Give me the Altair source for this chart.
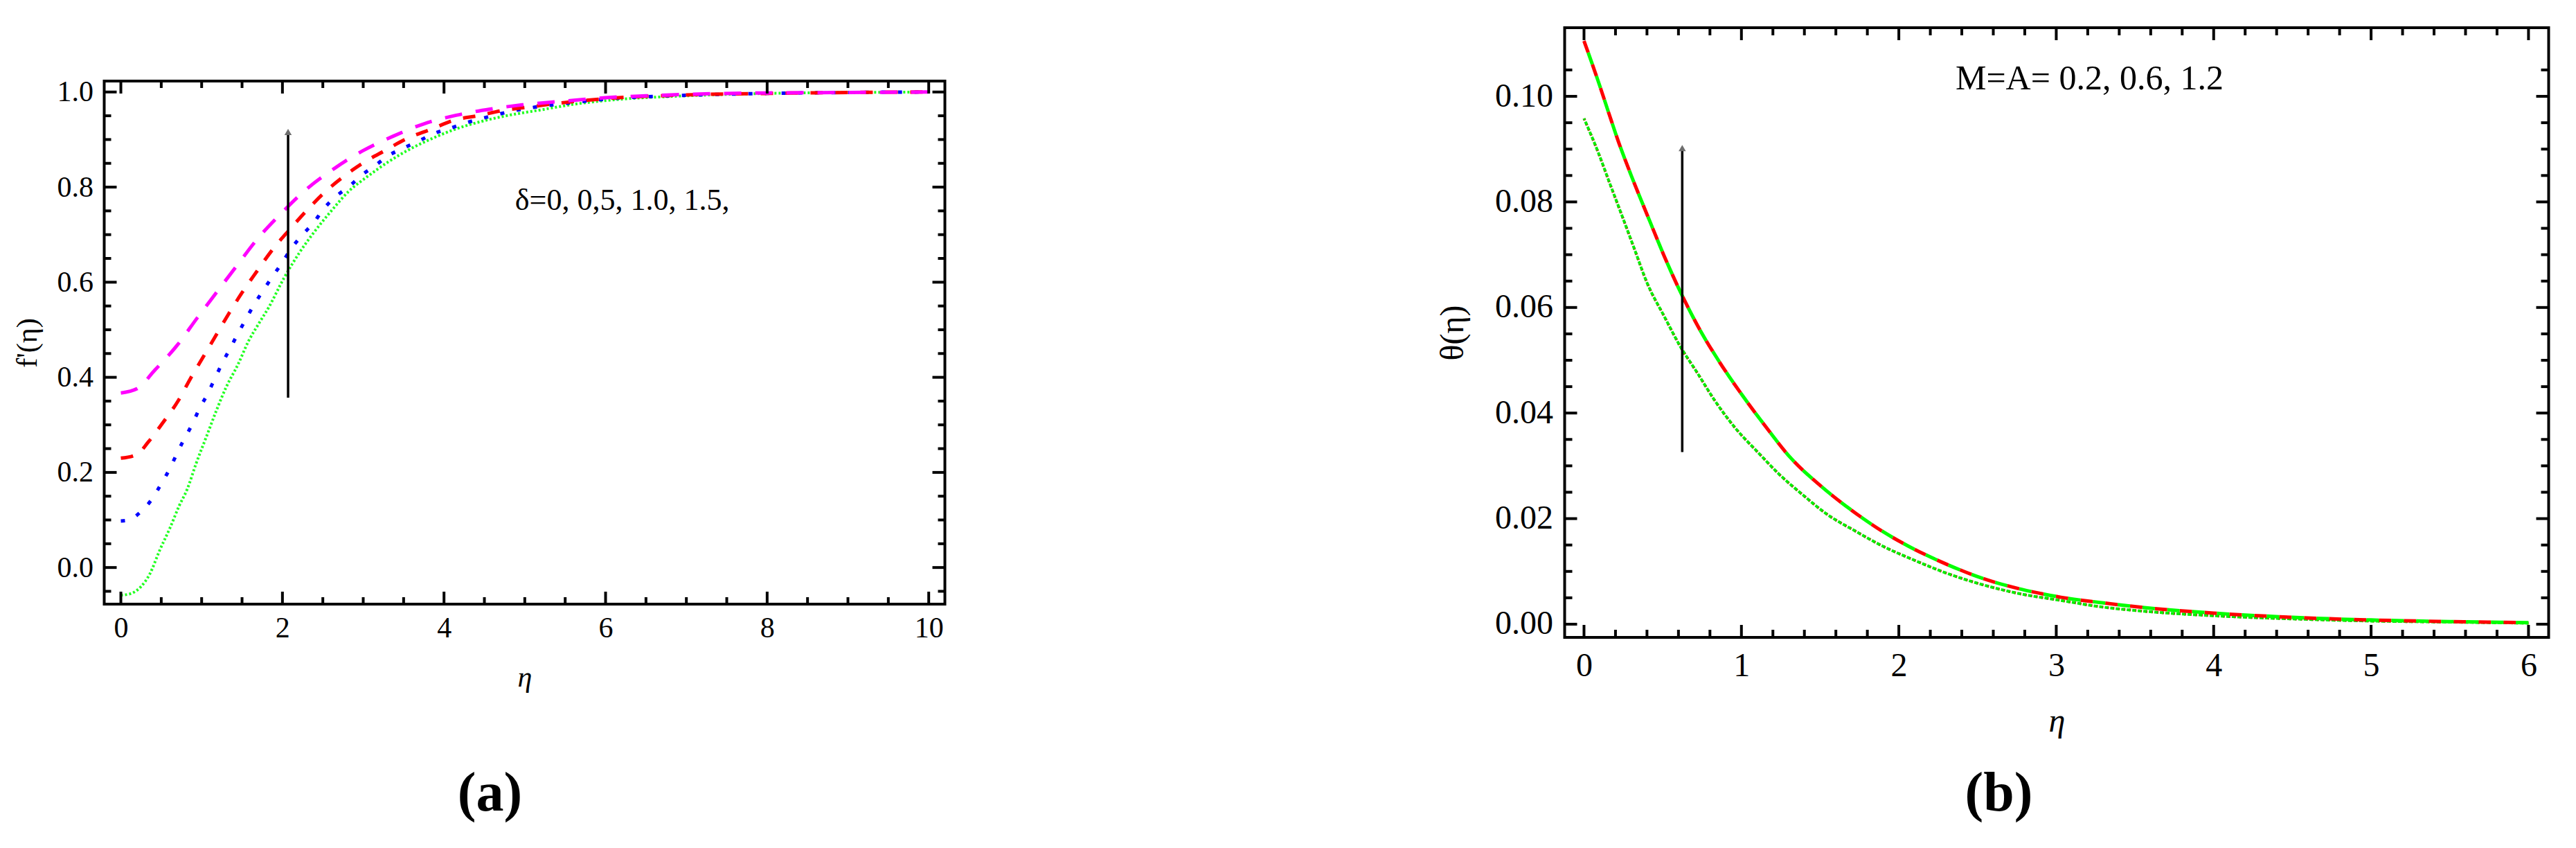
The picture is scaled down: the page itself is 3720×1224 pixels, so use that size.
import altair as alt
import pandas as pd

FONT = "Liberation Serif"

# ---------------- Panel (a): f'(eta) for delta = 0, 0.5, 1.0, 1.5 ----------------
a_green_eta = [0, 0.1, 0.25, 0.36, 0.48, 0.61, 0.72, 0.82, 0.93, 1.07, 1.18, 1.30, 1.45, 1.58, 1.70, 1.83, 2.02,
               2.21, 2.40, 2.61, 2.82, 3.05, 3.31, 3.58, 3.85, 4.11, 4.46, 4.80, 5.22, 5.6, 6, 7, 8, 9, 10]
a_green_val = [-0.058, -0.056, -0.040, -0.013, 0.036, 0.084, 0.129, 0.164, 0.218, 0.280, 0.329, 0.378, 0.427,
               0.476, 0.511, 0.547, 0.609, 0.662, 0.707, 0.751, 0.791, 0.822, 0.853, 0.880, 0.902, 0.920, 0.938,
               0.951, 0.963, 0.974, 0.982, 0.992, 0.997, 0.999, 1.0]

a_blue_eta = [0, 0.1, 0.25, 0.39, 0.50, 0.60, 0.69, 0.78, 0.88, 0.97, 1.07, 1.16, 1.25, 1.35, 1.45, 1.55, 1.65,
              1.76, 1.89, 2.0, 2.11, 2.25, 2.39, 2.51, 2.66, 2.83, 2.98, 3.14, 3.30, 3.50, 3.70, 3.88, 4.08, 4.27,
              4.46, 4.67, 4.88, 5.12, 5.5, 6, 7, 8, 9, 10]
a_blue_val = [0.098, 0.100, 0.118, 0.145, 0.176, 0.206, 0.238, 0.269, 0.300, 0.333, 0.364, 0.396, 0.428, 0.460,
              0.492, 0.523, 0.553, 0.582, 0.615, 0.642, 0.671, 0.700, 0.726, 0.754, 0.780, 0.802, 0.825, 0.844,
              0.865, 0.882, 0.898, 0.913, 0.924, 0.935, 0.944, 0.953, 0.961, 0.968, 0.976, 0.985, 0.993, 0.997,
              0.999, 1.0]

a_red_eta = [0, 0.2, 0.34, 0.53, 0.70, 0.86, 1.02, 1.18, 1.34, 1.50, 1.68, 1.87, 2.08, 2.28, 2.51, 2.74, 2.98,
             3.27, 3.54, 3.83, 4.15, 4.42, 4.72, 5.03, 5.5, 6, 7, 8, 9, 10]
a_red_val = [0.230, 0.238, 0.264, 0.307, 0.348, 0.397, 0.443, 0.489, 0.535, 0.578, 0.622, 0.667, 0.709, 0.747,
             0.787, 0.820, 0.849, 0.877, 0.902, 0.921, 0.942, 0.950, 0.961, 0.968, 0.978, 0.986, 0.994, 0.997,
             0.999, 1.0]

a_mag_eta = [0, 0.2, 0.42, 0.70, 0.95, 1.2, 1.45, 1.70, 1.98, 2.30, 2.65, 2.99, 3.37, 3.75, 4.15, 4.57, 4.97,
             5.5, 6, 6.5, 7, 8, 9, 10]
a_mag_val = [0.367, 0.376, 0.415, 0.468, 0.526, 0.582, 0.638, 0.693, 0.744, 0.796, 0.840, 0.876, 0.907, 0.933,
             0.951, 0.964, 0.973, 0.981, 0.988, 0.992, 0.995, 0.998, 0.999, 1.0]

a_x_major = [0, 2, 4, 6, 8, 10]
a_x_minor = [0.5, 1, 1.5, 2.5, 3, 3.5, 4.5, 5, 5.5, 6.5, 7, 7.5, 8.5, 9, 9.5]
a_y_major = [0.0, 0.2, 0.4, 0.6, 0.8, 1.0]
a_y_minor = [-0.05, 0.05, 0.1, 0.15, 0.25, 0.3, 0.35, 0.45, 0.5, 0.55, 0.65, 0.7, 0.75, 0.85, 0.9, 0.95]
a_arrow = {"x": [2.07], "y": [0.357], "y2": [0.916]}
a_note = {"x": [4.88], "y": [0.771], "t": ["\u03b4=0, 0,5, 1.0, 1.5,"]}

# ---------------- Panel (b): theta(eta) for M = A = 0.2, 0.6, 1.2 ----------------
b_up_eta = [0, 0.10, 0.16, 0.22, 0.30, 0.42, 0.51, 0.61, 0.73, 0.86, 1.0, 1.15, 1.31, 1.50, 1.69, 1.89, 2.06,
            2.30, 2.53, 2.78, 3.03, 3.28, 3.54, 4.0, 4.5, 5.0, 5.5, 6.0]
b_up_val = [0.1105, 0.1020, 0.0966, 0.0913, 0.0850, 0.0762, 0.0697, 0.0631, 0.0561, 0.0497, 0.0436, 0.0376,
            0.0316, 0.0263, 0.0218, 0.0177, 0.0148, 0.0114, 0.0087, 0.0066, 0.0051, 0.0041, 0.0032, 0.0021,
            0.0013, 0.0008, 0.0005, 0.0003]
b_lo_eta = [0, 0.09, 0.16, 0.24, 0.32, 0.40, 0.51, 0.61, 0.72, 0.83, 0.96, 1.11, 1.24, 1.39, 1.54, 1.72, 1.89,
            2.10, 2.30, 2.53, 2.78, 3.03, 3.28, 3.54, 4.0, 4.5, 5.0, 5.5, 6.0]
b_lo_val = [0.0958, 0.0894, 0.0838, 0.0775, 0.0711, 0.0647, 0.0583, 0.0527, 0.0476, 0.0424, 0.0372, 0.0324,
            0.0284, 0.0245, 0.0209, 0.0177, 0.0149, 0.0121, 0.0097, 0.0075, 0.0057, 0.0045, 0.0033, 0.0025,
            0.0016, 0.0010, 0.0006, 0.0004, 0.0002]

b_x_major = [0, 1, 2, 3, 4, 5, 6]
b_x_minor = [0.2, 0.4, 0.6, 0.8, 1.2, 1.4, 1.6, 1.8, 2.2, 2.4, 2.6, 2.8, 3.2, 3.4, 3.6, 3.8, 4.2, 4.4, 4.6, 4.8,
             5.2, 5.4, 5.6, 5.8]
b_y_major = [0.0, 0.02, 0.04, 0.06, 0.08, 0.10]
b_y_minor = [0.005, 0.01, 0.015, 0.025, 0.03, 0.035, 0.045, 0.05, 0.055, 0.065, 0.07, 0.075, 0.085, 0.09,
             0.095, 0.105]
b_arrow = {"x": [0.624], "y": [0.0326], "y2": [0.0902]}
b_note = {"x": [2.36], "y": [0.1033], "t": ["M=A= 0.2, 0.6, 1.2"]}

panel_labels = ["(a)", "(b)"]


def panel(W, H, top_off, xdom, ydom, xmaj, xmin, ymaj, ymin, yfmt, lines, ytitle, fs, note_fs,
          lpx, lpy, tpx, tpy, majlen, minlen, arrow, note, label, lab_x, lab_y, lab_fs):
    # the framed plot area occupies rows top_off .. top_off+H of a view of height top_off+H
    GH = top_off + H
    ytop = ydom[1] + (ydom[1] - ydom[0]) * top_off / H
    xs = alt.Scale(domain=xdom, nice=False, zero=False)
    ys = alt.Scale(domain=[ydom[0], ytop], nice=False, zero=False)
    xaxis = alt.Axis(values=xmaj, format="d", ticks=False, tickSize=0, domain=False, grid=False,
                     labelFont=FONT, labelFontSize=fs, labelColor="black", labelPadding=lpx,
                     labelFlush=False, labelOverlap=False,
                     title="\u03b7", titleFont=FONT, titleFontSize=fs, titleFontWeight="normal",
                     titleFontStyle="italic", titleColor="black", titlePadding=tpx)
    yaxis = alt.Axis(values=ymaj, format=yfmt, ticks=False, tickSize=0, domain=False, grid=False,
                     labelFont=FONT, labelFontSize=fs, labelColor="black", labelPadding=lpy,
                     labelFlush=False, labelOverlap=False,
                     title=ytitle, titleFont=FONT, titleFontSize=fs, titleFontWeight="normal",
                     titleColor="black", titlePadding=tpy, titleY=top_off + H / 2)

    def X(f):
        return alt.X(f, type="quantitative", scale=xs, axis=xaxis)

    def Y(f):
        return alt.Y(f, type="quantitative", scale=ys, axis=yaxis)

    layers = []
    for (eta, val, color, dash, width, off) in lines:
        df = pd.DataFrame({"eta": eta, "val": val})
        mk = dict(color=color, strokeWidth=width, interpolate="monotone", clip=True, strokeCap="butt")
        if dash:
            mk["strokeDash"] = dash
        if off:
            mk["strokeDashOffset"] = off
        layers.append(alt.Chart(df).mark_line(**mk).encode(x=X("eta"), y=Y("val")))
    adf = pd.DataFrame(arrow)
    layers.append(alt.Chart(adf).mark_rule(color="black", strokeWidth=3.5).encode(
        x=X("x"), y=Y("y"), y2="y2:Q"))
    layers.append(alt.Chart(adf).mark_point(shape="triangle-up", filled=True, color="#6e6e6e",
                                            size=110, opacity=1).encode(x=X("x"), y=Y("y2")))
    ndf = pd.DataFrame(note)
    layers.append(alt.Chart(ndf).mark_text(align="left", baseline="middle", font=FONT, fontSize=note_fs,
                                           color="black").encode(x=X("x"), y=Y("y"), text="t:N"))
    # inward frame ticks on all four sides
    for vals, ln in ((xmaj, majlen), (xmin, minlen)):
        tdf = pd.DataFrame({"v": vals})
        layers.append(alt.Chart(tdf).mark_rule(color="black", strokeWidth=4).encode(
            x=X("v"), y=alt.value(top_off), y2=alt.value(top_off + ln)))
        layers.append(alt.Chart(tdf).mark_rule(color="black", strokeWidth=4).encode(
            x=X("v"), y=alt.value(GH - ln), y2=alt.value(GH)))
    for vals, ln in ((ymaj, majlen), (ymin, minlen)):
        tdf = pd.DataFrame({"v": vals})
        layers.append(alt.Chart(tdf).mark_rule(color="black", strokeWidth=4).encode(
            y=Y("v"), x=alt.value(0), x2=alt.value(ln)))
        layers.append(alt.Chart(tdf).mark_rule(color="black", strokeWidth=4).encode(
            y=Y("v"), x=alt.value(W - ln), x2=alt.value(W)))
    # frame
    fdf = pd.DataFrame({"f": [0]})
    layers.append(alt.Chart(fdf).mark_rect(filled=False, stroke="black", strokeWidth=4).encode(
        x=alt.value(0), x2=alt.value(W), y=alt.value(top_off), y2=alt.value(GH)))
    # panel label "(a)" / "(b)"
    ldf = pd.DataFrame({"t": [label]})
    layers.append(alt.Chart(ldf).mark_text(font=FONT, fontSize=lab_fs, fontWeight="bold", color="black",
                                           align="center", baseline="middle").encode(
        x=alt.value(lab_x), y=alt.value(lab_y), text="t:N"))
    return alt.layer(*layers).properties(width=W, height=GH)


A_W, A_H = 1214, 755
B_W, B_H = 1421, 880

chart_a = panel(A_W, A_H, 77, [-0.206, 10.2], [-0.077, 1.023], a_x_major, a_x_minor, a_y_major, a_y_minor,
                ".1f",
                [(a_green_eta, a_green_val, "#22FF22", [3, 3], 4, 0),
                 (a_blue_eta, a_blue_val, "#0000FF", [6, 18], 5, 0),
                 (a_red_eta, a_red_val, "#FF0000", [18, 18], 5, 0),
                 (a_mag_eta, a_mag_val, "#FF00FF", [25, 20], 5, 0)],
                "f'(\u03b7)", 42, 44, 14, 16, 30, 21, 18, 10, a_arrow, a_note, panel_labels[0],
                557, 1106, 80)

chart_b = panel(B_W, B_H, 0, [-0.123, 6.128], [-0.0025, 0.113], b_x_major, b_x_minor, b_y_major, b_y_minor,
                ".2f",
                [(b_lo_eta, b_lo_val, "#A04800", [3, 5], 4, 0),
                 (b_lo_eta, b_lo_val, "#00EE00", [5, 3], 4, 3),
                 (b_up_eta, b_up_val, "#FF0000", [18, 18], 5, 0),
                 (b_up_eta, b_up_val, "#00FF00", [18, 18], 5, 18)],
                "\u03b8(\u03b7)", 48, 50, 17, 17, 32, 36, 18, 11, b_arrow, b_note, panel_labels[1],
                627, 1106, 80)

chart = alt.hconcat(chart_a, chart_b, spacing=708).properties(
    padding={"left": 9.5, "top": 30, "right": 5, "bottom": 5}, background="white"
).configure_view(strokeOpacity=0)

chart.save("out.html", embed_options={"renderer": "svg", "actions": False})
